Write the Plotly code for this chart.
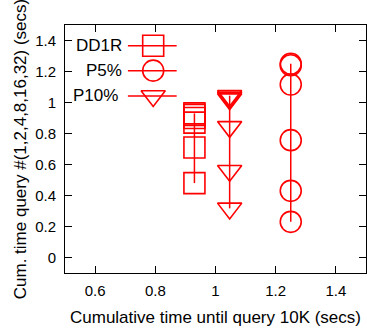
import plotly.graph_objects as go

# ---- data ----
series_names = ["DD1R", "P5%", "P10%"]
queries = [1, 2, 4, 8, 16, 32]
# cumulative time until query 10K (x) for each strategy
dd1r_x = 0.93
p5_x = 1.25
p10_x = 1.047
# cumulative time of queries #1,2,4,8,16,32 (y)
dd1r_y = [0.48, 0.71, 0.87, 0.90, 0.92, 0.93]
p5_y = [0.23, 0.43, 0.757, 1.116, 1.24, 1.25]
p10_y = [0.317, 0.56, 0.843, 1.022, 1.033, 1.044]

x_ticks = [0.6, 0.8, 1, 1.2, 1.4]
y_ticks = [0, 0.2, 0.4, 0.6, 0.8, 1, 1.2, 1.4]

RED = "#ff0000"
FONT = "Liberation Sans, Arial, Helvetica, sans-serif"
symbols = {"DD1R": "square-open", "P5%": "circle-open", "P10%": "triangle-down-open"}
msizes = {"DD1R": 21, "P5%": 21, "P10%": 21}

fig = go.Figure()
for name, xv, yv in [("DD1R", dd1r_x, dd1r_y), ("P5%", p5_x, p5_y), ("P10%", p10_x, p10_y)]:
    fig.add_trace(go.Scatter(
        x=[xv] * len(yv), y=yv, mode="lines+markers", name=name,
        line=dict(color=RED, width=1.5),
        marker=dict(symbol=symbols[name], size=msizes[name], color=RED,
                    line=dict(color=RED, width=1.6)),
        showlegend=False,
    ))

# ---- custom gnuplot-style key (text left, sample right) on an overlay paper-like axis ----
key_y = [0.9165, 0.816, 0.714]
key_text_x = [98.9, 104.2, 95.0]  # text centres in px
L, R, T, B, W, H = 65, 1, 25, 56, 367, 329
pw = W - L - R
for i, name in enumerate(series_names):
    fig.add_trace(go.Scatter(
        x=[0.209, 0.371], y=[key_y[i], key_y[i]], mode="lines",
        line=dict(color=RED, width=1.5), xaxis="x2", yaxis="y2",
        showlegend=False, hoverinfo="skip"))
    fig.add_trace(go.Scatter(
        x=[0.293], y=[key_y[i]], mode="markers",
        marker=dict(symbol=symbols[name], size=msizes[name], color=RED,
                    line=dict(color=RED, width=1.6)),
        xaxis="x2", yaxis="y2", showlegend=False, hoverinfo="skip"))
    fig.add_annotation(
        x=(key_text_x[i] - L) / pw, y=key_y[i], xref="paper", yref="paper",
        text=name, showarrow=False, xanchor="center", yanchor="middle",
        font=dict(family=FONT, size=17, color="black"))

axis_common = dict(
    showline=True, linecolor="black", linewidth=1, mirror="ticks",
    ticks="inside", ticklen=7, tickcolor="black", tickwidth=1,
    showgrid=False, zeroline=False,
    tickfont=dict(family=FONT, size=15, color="black"),
)

fig.update_layout(
    width=W, height=H,
    margin=dict(l=L, r=R, t=T, b=B),
    paper_bgcolor="white", plot_bgcolor="white",
    font=dict(family=FONT, color="black"),
    xaxis=dict(range=[0.5, 1.5], tickvals=x_ticks, ticktext=[f"{v:g}" for v in x_ticks],
               ticklabelstandoff=4,
               title=dict(text="Cumulative time until query 10K (secs)",
                          font=dict(family=FONT, size=17), standoff=13),
               **axis_common),
    yaxis=dict(range=[-0.1, 1.5], tickvals=y_ticks, ticktext=[f"{v:g}" for v in y_ticks],
               ticklabelstandoff=5,
               title=dict(text="Cum. time query #(1,2,4,8,16,32) (secs)",
                          font=dict(family=FONT, size=17), standoff=4),
               **axis_common),
    xaxis2=dict(range=[0, 1], overlaying="x", visible=False, fixedrange=True),
    yaxis2=dict(range=[0, 1], overlaying="y", visible=False, fixedrange=True),
)

fig.write_html("out.html")
